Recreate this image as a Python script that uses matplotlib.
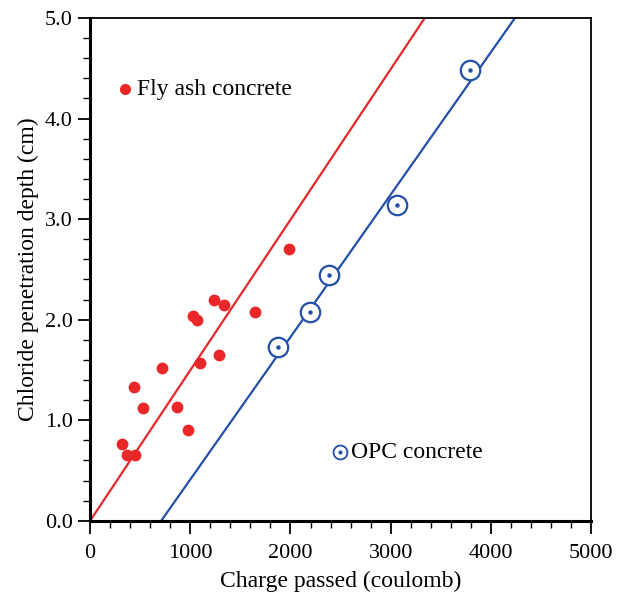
import matplotlib.pyplot as plt
import numpy as np

plt.rcParams['font.family'] = 'Liberation Serif'

# fly ash concrete data (charge in coulomb, depth in cm)
fly_charge = [320, 370, 450, 440, 530, 720, 870, 980, 1030, 1070, 1100, 1240, 1290, 1340, 1650, 1990]
fly_depth = [0.76, 0.65, 0.65, 1.33, 1.12, 1.52, 1.13, 0.90, 2.04, 2.00, 1.57, 2.20, 1.65, 2.15, 2.08, 2.70]

# OPC concrete data
opc_charge = [1880, 2190, 2380, 3060, 3790]
opc_depth = [1.73, 2.08, 2.44, 3.14, 4.48]

# fitted lines (end points)
fly_line_x = [0, 3340]
fly_line_y = [0.0, 5.0]
opc_line_x = [710, 4240]
opc_line_y = [0.0, 5.0]

red = '#e82828'
blue = '#2450a8'

fig = plt.figure(figsize=(6.17, 6.0), dpi=100)
ax = fig.add_axes([0.146, 0.132, 0.812, 0.838])

ax.plot(fly_line_x, fly_line_y, color=red, lw=1.6)
ax.plot(opc_line_x, opc_line_y, color=blue, lw=1.6)

ax.plot(fly_charge, fly_depth, 'o', color=red, ms=8.5, mec='none')
ax.plot(opc_charge, opc_depth, 'o', mfc='white', mec=blue, mew=1.6, ms=14)
ax.plot(opc_charge, opc_depth, 'o', color=blue, ms=2.2)

# legend entries as in the picture
ax.plot([350], [4.29], 'o', color=red, ms=8, mec='none')
ax.text(470, 4.29, 'Fly ash concrete', fontsize=17, va='center')
ax.plot([2490], [0.68], 'o', mfc='white', mec=blue, mew=1.3, ms=10)
ax.plot([2490], [0.68], 'o', color=blue, ms=2)
ax.text(2600, 0.68, 'OPC concrete', fontsize=17, va='center')

ax.set_xlim(0, 5000)
ax.set_ylim(0, 5.0)
ax.set_xticks(np.arange(0, 5001, 1000))
ax.set_xticks(np.arange(0, 5001, 200), minor=True)
ax.set_yticks(np.arange(0, 5.01, 1.0))
ax.set_yticks(np.arange(0, 5.01, 0.2), minor=True)
ax.set_yticklabels(['%.1f' % v for v in np.arange(0, 5.01, 1.0)])

ax.tick_params(which='major', direction='out', length=9, width=1.3, labelsize=16)
ax.tick_params(which='minor', direction='out', length=5, width=1.0)
ax.tick_params(axis='x', pad=8)

for s in ['left', 'bottom']:
    ax.spines[s].set_linewidth(2.2)
for s in ['top', 'right']:
    ax.spines[s].set_linewidth(1.3)

ax.set_xlabel('Charge passed (coulomb)', fontsize=17, labelpad=5)
ax.set_ylabel('Chloride penetration depth (cm)', fontsize=17, labelpad=4)

plt.savefig('out.png')
